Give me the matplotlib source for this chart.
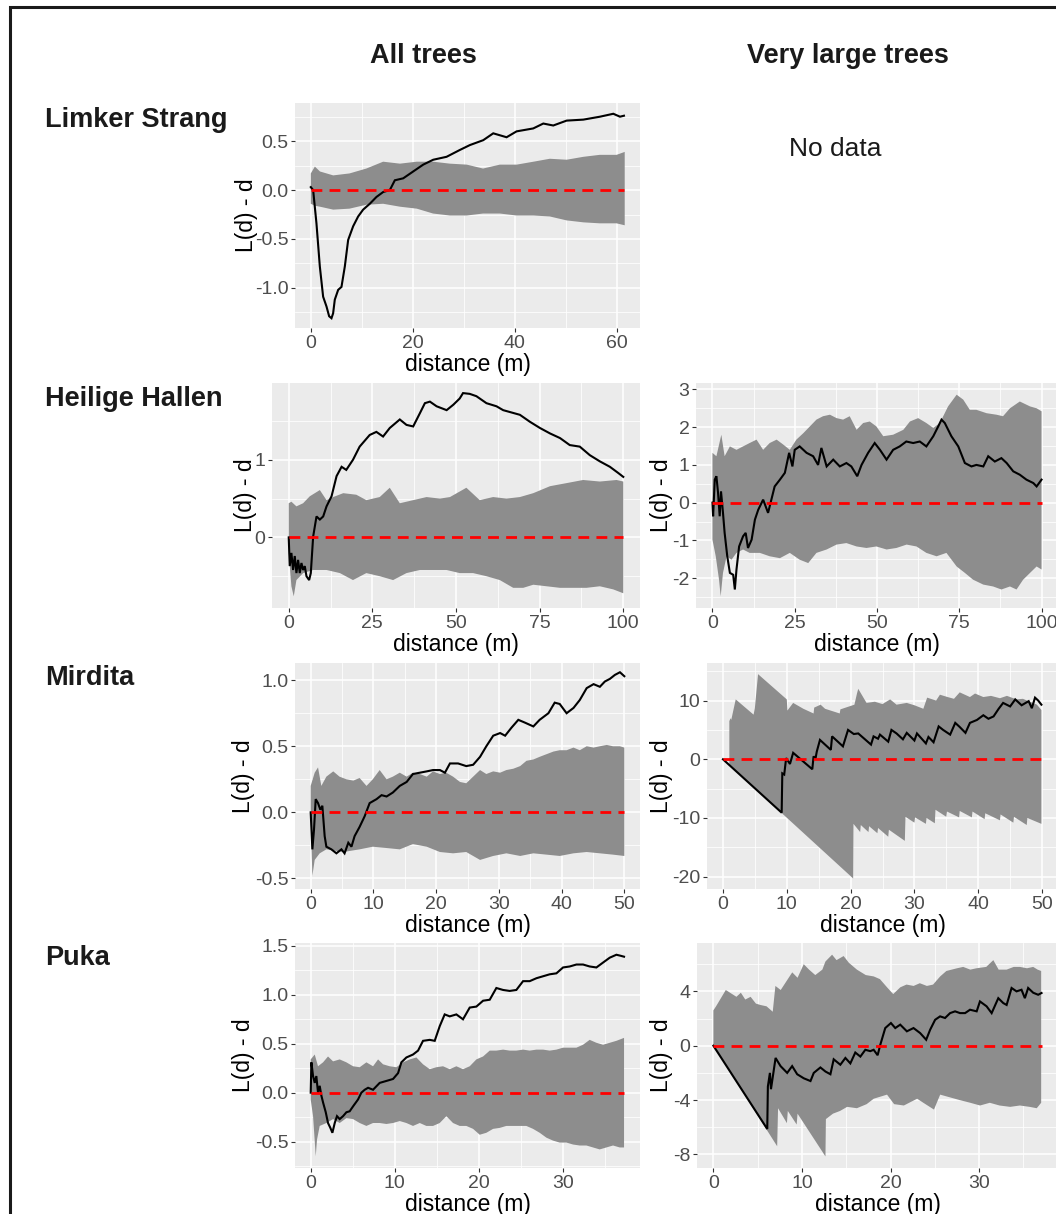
import numpy as np
import matplotlib
matplotlib.use("Agg")
import matplotlib.pyplot as plt
from matplotlib.patches import Rectangle

plt.rcParams['font.family'] = ['Liberation Sans', 'DejaVu Sans']
plt.rcParams['axes.unicode_minus'] = False

# ---------------- text ----------------
col_titles = ["All trees", "Very large trees"]
row_titles = ["Limker Strang", "Heilige Hallen", "Mirdita", "Puka"]
no_data_text = "No data"
x_label = "distance (m)"
y_label = "L(d) - d"

# ---------------- data ----------------
# A: Limker Strang, all trees
A_obs_x = [0, 0.46, 1.11, 1.77, 2.42, 3.08, 3.6, 4.06, 4.38, 4.71, 5.37, 6.02, 6.68, 7.33, 8.31, 9.29, 10.27,
           11.58, 12.89, 14.2, 15.51, 16.49, 18.13, 20.09, 22.06, 24.02, 26.64, 29.25, 31.22, 33.84, 35.8, 38.42,
           40.38, 43.65, 45.62, 47.58, 50.2, 53.47, 56.74, 59.36, 60.67, 61.45]
A_obs_y = [0.03, 0.0, -0.34, -0.78, -1.09, -1.19, -1.29, -1.31, -1.26, -1.12, -1.02, -0.99, -0.78, -0.51, -0.37,
           -0.27, -0.20, -0.14, -0.07, -0.02, 0.0, 0.10, 0.12, 0.19, 0.26, 0.31, 0.34, 0.41, 0.46, 0.51, 0.58, 0.54,
           0.60, 0.63, 0.68, 0.66, 0.71, 0.72, 0.75, 0.78, 0.75, 0.76]
A_hi_x = [0, 0.8, 1.8, 4.4, 7.6, 10.9, 14.2, 17.5, 20.8, 24.0, 27.3, 30.6, 33.8, 37.1, 40.4, 43.7, 46.9, 50.2,
          53.5, 56.7, 60.0, 61.6]
A_hi_y = [0.17, 0.24, 0.19, 0.15, 0.17, 0.22, 0.29, 0.27, 0.29, 0.29, 0.27, 0.26, 0.22, 0.26, 0.26, 0.29, 0.32,
          0.31, 0.34, 0.36, 0.36, 0.39]
A_lo_x = A_hi_x
A_lo_y = [-0.14, -0.16, -0.17, -0.20, -0.19, -0.15, -0.14, -0.17, -0.19, -0.24, -0.26, -0.26, -0.24, -0.24,
          -0.26, -0.26, -0.27, -0.31, -0.33, -0.34, -0.34, -0.36]

# B: Heilige Hallen, all trees
B_obs_x = [0, 0.3, 0.8, 1.3, 1.8, 2.3, 2.8, 3.3, 3.8, 4.3, 4.8, 5.3, 6.1, 6.6, 7.3, 8.3, 9.3, 10.3, 11.3, 12.8,
           14.3, 15.8, 17.2, 19.2, 21.2, 24.2, 26.2, 28.2, 30.2, 33.2, 35.2, 37.2, 39.2, 40.7, 42.2, 44.2, 47.2,
           49.2, 51.1, 52.1, 54.1, 56.1, 59.1, 62.1, 64.1, 66.6, 69.1, 72.1, 75.1, 78.1, 81.1, 84.0, 87.0, 90.0,
           93.0, 96.0, 98.5, 100]
B_obs_y = [0, -0.37, -0.2, -0.42, -0.24, -0.46, -0.29, -0.46, -0.33, -0.42, -0.37, -0.50, -0.55, -0.46, 0.01,
           0.27, 0.23, 0.27, 0.40, 0.53, 0.79, 0.91, 0.87, 1.0, 1.17, 1.32, 1.36, 1.30, 1.41, 1.52, 1.45, 1.43,
           1.60, 1.73, 1.75, 1.69, 1.64, 1.71, 1.79, 1.86, 1.85, 1.82, 1.73, 1.69, 1.64, 1.61, 1.58, 1.49, 1.41,
           1.34, 1.28, 1.19, 1.17, 1.06, 0.98, 0.91, 0.83, 0.78]
B_hi_x = [0, 0.8, 2.3, 4.3, 6.3, 9.3, 11.3, 13.3, 16.3, 20.2, 23.2, 27.2, 30.2, 33.2, 37.2, 41.2, 45.2, 48.2,
          53.1, 57.1, 61.1, 65.1, 69.1, 73.1, 78.1, 83.1, 88.0, 93.0, 98.0, 100]
B_hi_y = [0.44, 0.46, 0.40, 0.44, 0.53, 0.61, 0.48, 0.52, 0.57, 0.55, 0.48, 0.52, 0.64, 0.44, 0.48, 0.52, 0.50,
          0.52, 0.64, 0.48, 0.52, 0.50, 0.52, 0.57, 0.66, 0.70, 0.74, 0.72, 0.74, 0.72]
B_lo_x = [0, 0.8, 1.5, 2.3, 4.3, 7.3, 11.3, 15.3, 19.2, 23.2, 27.2, 31.2, 35.2, 39.2, 43.2, 47.2, 51.1, 55.1,
          59.1, 63.1, 67.1, 70.1, 73.1, 77.1, 81.1, 85.0, 89.0, 93.0, 97.0, 100]
B_lo_y = [-0.20, -0.63, -0.76, -0.55, -0.46, -0.42, -0.42, -0.46, -0.55, -0.46, -0.50, -0.55, -0.46, -0.42,
          -0.42, -0.42, -0.46, -0.46, -0.50, -0.55, -0.65, -0.65, -0.61, -0.63, -0.65, -0.65, -0.65, -0.63,
          -0.67, -0.72]

# C: Heilige Hallen, very large trees
C_obs_x = [0, 0.2, 0.7, 1.2, 1.7, 2.2, 2.6, 3.2, 3.7, 4.5, 5.3, 6.3, 6.8, 7.3, 8.1, 9.3, 10.1, 10.8, 11.9, 12.9,
           13.9, 15.4, 16.9, 17.9, 18.9, 20.5, 22.0, 23.3, 24.3, 25.0, 26.5, 28.6, 30.6, 32.1, 33.1, 34.7, 36.7,
           38.7, 40.7, 42.2, 44.0, 45.3, 47.3, 49.3, 50.9, 52.9, 54.9, 56.9, 58.9, 61.0, 63.0, 65.0, 67.1, 68.6,
           69.6, 70.6, 72.6, 74.7, 76.7, 78.7, 80.2, 82.3, 83.8, 85.8, 87.8, 89.4, 91.4, 93.4, 95.4, 97.5, 98.5, 100]
C_obs_y = [0, -0.36, 0.61, 0.70, 0.26, -0.36, 0.30, -0.27, -0.80, -1.42, -1.86, -1.91, -2.30, -1.77, -1.16,
           -0.89, -0.80, -1.20, -0.98, -0.45, -0.19, 0.08, -0.27, 0.08, 0.43, 0.61, 0.79, 1.32, 0.96, 1.40, 1.49,
           1.32, 1.23, 1.0, 1.45, 0.96, 1.14, 0.96, 1.05, 0.96, 0.70, 1.0, 1.32, 1.58, 1.40, 1.14, 1.40, 1.49,
           1.62, 1.58, 1.62, 1.49, 1.76, 2.02, 2.20, 2.11, 1.76, 1.49, 1.05, 0.96, 1.0, 0.96, 1.23, 1.09, 1.18,
           1.05, 0.83, 0.74, 0.61, 0.52, 0.43, 0.61]
C_hi_x = [0, 1.2, 2.7, 3.7, 5.3, 7.3, 9.3, 11.3, 13.4, 15.4, 17.4, 19.5, 21.5, 23.5, 25.5, 27.6, 29.6, 31.6,
          33.6, 35.7, 37.7, 39.7, 41.7, 43.8, 45.8, 47.8, 49.8, 51.9, 54.9, 58.0, 60.0, 62.5, 65.0, 67.1, 69.1,
          71.6, 74.2, 76.2, 78.2, 80.2, 83.3, 86.3, 88.3, 90.4, 93.4, 96.5, 98.5, 100]
C_hi_y = [1.32, 1.23, 1.80, 1.23, 1.49, 1.40, 1.49, 1.58, 1.67, 1.40, 1.58, 1.67, 1.54, 1.40, 1.67, 1.84, 2.02,
          2.20, 2.29, 2.33, 2.24, 2.20, 2.29, 1.93, 2.11, 2.15, 2.02, 1.76, 1.80, 1.93, 2.15, 2.24, 2.11, 1.98,
          2.11, 2.55, 2.86, 2.73, 2.46, 2.46, 2.37, 2.33, 2.29, 2.50, 2.68, 2.55, 2.50, 2.42]
C_lo_x = [0, 1.0, 2.0, 2.5, 3.2, 4.3, 5.8, 7.3, 9.3, 11.3, 14.4, 17.4, 20.5, 23.5, 26.5, 29.1, 31.6, 34.7, 37.7,
          40.7, 43.8, 46.8, 49.8, 52.9, 55.9, 59.0, 62.0, 65.0, 68.1, 71.1, 74.2, 76.7, 79.2, 82.3, 85.3, 87.8,
          90.4, 92.4, 94.4, 96.5, 98.5, 100]
C_lo_y = [-0.98, -1.42, -2.04, -2.48, -1.86, -1.42, -1.51, -1.33, -1.24, -1.33, -1.33, -1.42, -1.47, -1.33,
          -1.51, -1.60, -1.33, -1.24, -1.11, -1.07, -1.16, -1.20, -1.16, -1.24, -1.20, -1.11, -1.16, -1.33,
          -1.42, -1.33, -1.69, -1.86, -2.04, -2.17, -2.22, -2.30, -2.22, -2.30, -2.04, -1.86, -1.69, -1.77]

# D: Mirdita, all trees
D_obs_x = [0, 0.27, 0.53, 0.80, 1.17, 1.54, 1.86, 2.23, 2.5, 3.3, 4.1, 4.9, 5.4, 6.0, 6.5, 7.0, 7.8, 8.6, 9.4,
           10.5, 11.3, 12.1, 13.1, 14.2, 15.3, 16.3, 17.4, 18.5, 19.5, 20.6, 21.4, 22.2, 23.5, 24.8, 25.9, 27.0,
           28.0, 29.1, 30.2, 31.0, 32.0, 33.1, 34.1, 35.5, 36.5, 37.9, 38.9, 39.7, 40.8, 41.9, 42.9, 44.0, 45.1,
           46.1, 46.9, 47.7, 48.5, 49.3, 50.0]
D_obs_y = [0, -0.28, -0.13, 0.10, 0.07, 0.02, 0.05, -0.18, -0.26, -0.28, -0.31, -0.28, -0.31, -0.23, -0.26,
           -0.18, -0.11, -0.03, 0.07, 0.10, 0.13, 0.12, 0.15, 0.20, 0.23, 0.29, 0.30, 0.31, 0.32, 0.32, 0.30,
           0.37, 0.37, 0.35, 0.36, 0.42, 0.50, 0.58, 0.60, 0.58, 0.64, 0.70, 0.68, 0.65, 0.70, 0.75, 0.83, 0.82,
           0.75, 0.79, 0.85, 0.94, 0.97, 0.95, 0.99, 1.01, 1.04, 1.06, 1.03]
D_hi_x = [0, 0.64, 1.17, 1.70, 2.5, 3.6, 4.6, 5.7, 6.8, 7.8, 8.9, 9.9, 11.0, 12.1, 13.1, 14.2, 15.3, 16.3, 17.4,
          18.5, 19.5, 20.6, 21.6, 22.7, 23.8, 24.8, 25.9, 27.0, 28.0, 29.1, 30.2, 31.2, 32.3, 33.4, 34.4, 35.5,
          36.5, 37.6, 38.7, 39.7, 40.8, 41.9, 42.9, 44.0, 45.1, 46.1, 47.2, 48.2, 49.3, 50.0]
D_hi_y = [0.20, 0.30, 0.34, 0.20, 0.27, 0.31, 0.27, 0.25, 0.24, 0.26, 0.20, 0.25, 0.32, 0.25, 0.27, 0.30, 0.27,
          0.30, 0.29, 0.27, 0.31, 0.29, 0.30, 0.27, 0.23, 0.22, 0.27, 0.32, 0.29, 0.31, 0.30, 0.32, 0.33, 0.35,
          0.39, 0.40, 0.42, 0.44, 0.46, 0.47, 0.47, 0.49, 0.47, 0.50, 0.49, 0.50, 0.51, 0.50, 0.50, 0.49]
D_lo_x = [0, 0.27, 0.64, 1.44, 2.5, 5.2, 7.8, 9.9, 12.1, 14.2, 16.3, 18.5, 20.6, 22.7, 24.8, 27.0, 29.1, 31.2,
          33.4, 35.5, 37.6, 39.7, 41.9, 44.0, 46.1, 48.2, 50.0]
D_lo_y = [-0.03, -0.48, -0.36, -0.31, -0.28, -0.30, -0.28, -0.26, -0.27, -0.28, -0.24, -0.26, -0.30, -0.31,
          -0.30, -0.36, -0.33, -0.31, -0.33, -0.31, -0.32, -0.33, -0.31, -0.30, -0.31, -0.32, -0.33]

# E: Mirdita, very large trees
E_obs_x = [0, 9.2, 9.3, 9.6, 9.9, 10.5, 11.0, 14.0, 14.2, 14.5, 14.7, 15.2, 16.9, 17.1, 18.8, 19.6, 20.5, 21.2,
           23.2, 23.6, 24.3, 24.6, 25.9, 26.4, 27.2, 28.2, 28.8, 30.0, 30.4, 31.8, 32.2, 33.0, 33.8, 34.5, 35.6,
           36.4, 37.1, 38.0, 38.7, 39.8, 40.8, 41.6, 42.4, 43.2, 43.9, 45.0, 45.8, 46.8, 47.9, 48.4, 48.9, 49.4,
           49.9]
E_obs_y = [0, -9.1, -2.4, -2.6, 0.2, -0.8, 1.1, -1.7, 0.5, 0.1, 1.3, 3.3, 1.6, 3.9, 2.2, 5.0, 4.3, 4.4, 2.5, 3.9,
           3.5, 4.2, 3.0, 5.0, 4.4, 3.4, 4.5, 3.2, 4.4, 2.7, 3.8, 2.9, 5.6, 5.0, 4.2, 6.2, 5.5, 4.5, 6.2, 6.7, 7.5,
           6.9, 7.3, 8.6, 9.6, 9.0, 10.2, 9.2, 9.9, 8.7, 10.5, 10.0, 9.3]
E_hi_x = [1.0, 1.2, 1.3, 2.0, 4.8, 5.0, 5.5, 10.0, 10.1, 11.0, 12.6, 14.2, 14.3, 15.3, 16.0, 18.3, 18.4, 20.6,
          21.0, 21.2, 22.5, 23.8, 25.0, 26.2, 27.2, 28.8, 30.0, 31.4, 32.0, 33.4, 34.0, 35.2, 36.2, 37.1, 38.7,
          39.5, 40.8, 42.0, 43.4, 44.5, 46.0, 47.0, 48.1, 49.2, 49.9]
E_hi_y = [6.5, 7.0, 6.7, 10.2, 7.6, 8.7, 14.5, 10.2, 8.3, 9.6, 8.6, 7.8, 8.8, 9.3, 8.6, 7.8, 8.5, 9.3, 11.2,
          12.0, 9.6, 9.8, 9.4, 10.2, 9.3, 9.6, 9.2, 8.6, 10.5, 10.0, 11.0, 10.6, 10.3, 11.4, 10.6, 11.2, 10.6,
          10.8, 10.4, 10.8, 10.2, 10.3, 9.8, 9.3, 8.4]
E_lo_x = [1.0, 20.4, 20.45, 21.5, 21.6, 22.8, 22.9, 24.2, 24.3, 25.9, 26.0, 28.5, 28.6, 30.0, 30.1, 31.8, 31.9,
          33.2, 33.3, 35.0, 35.1, 37.0, 37.1, 39.0, 39.1, 41.0, 41.1, 43.4, 43.5, 45.5, 45.6, 47.6, 47.7, 49.9]
E_lo_y = [-1.0, -20.3, -11.0, -12.4, -11.2, -12.4, -11.4, -12.6, -11.7, -13.2, -12.0, -13.9, -9.8, -10.8, -9.9,
          -11.0, -10.0, -10.9, -8.6, -9.8, -8.9, -9.9, -8.8, -9.9, -8.9, -10.2, -9.2, -10.4, -9.4, -10.8, -9.8,
          -11.2, -10.0, -11.0]

# F: Puka, all trees
F_obs_x = [0, 0.08, 0.28, 0.48, 0.67, 0.87, 1.07, 1.27, 1.47, 1.79, 2.06, 2.34, 2.58, 2.86, 3.13, 3.45, 3.85,
           4.25, 4.64, 5.04, 5.63, 6.03, 6.43, 6.83, 7.42, 8.21, 9.01, 9.80, 10.40, 10.79, 11.39, 12.18, 12.78,
           13.37, 14.17, 14.76, 15.36, 15.95, 16.55, 17.34, 18.13, 18.93, 19.72, 20.52, 21.31, 22.10, 22.90,
           23.69, 24.48, 25.28, 26.07, 26.87, 27.66, 28.45, 29.25, 30.04, 30.83, 31.63, 32.42, 33.21, 34.01,
           34.80, 35.60, 36.39, 36.87, 37.30]
F_obs_y = [0, 0.31, 0.17, 0.10, 0.17, 0.0, 0.07, -0.03, -0.10, -0.20, -0.31, -0.36, -0.41, -0.31, -0.24, -0.27,
           -0.24, -0.20, -0.19, -0.14, -0.07, 0.0, 0.03, 0.05, 0.03, 0.10, 0.12, 0.14, 0.20, 0.31, 0.36, 0.39,
           0.43, 0.53, 0.54, 0.53, 0.68, 0.80, 0.78, 0.80, 0.75, 0.87, 0.88, 0.94, 0.95, 1.07, 1.05, 1.04, 1.05,
           1.14, 1.14, 1.17, 1.19, 1.21, 1.22, 1.28, 1.29, 1.31, 1.31, 1.29, 1.28, 1.33, 1.38, 1.41, 1.40, 1.39]
F_hi_x = [0, 0.48, 0.87, 1.47, 2.06, 2.66, 3.45, 4.25, 5.04, 5.83, 6.63, 7.42, 8.02, 8.61, 9.40, 10.20, 10.99,
          11.79, 12.58, 13.37, 14.17, 14.96, 15.75, 16.55, 17.34, 18.13, 18.93, 19.72, 20.52, 21.31, 22.10,
          22.90, 23.69, 24.48, 25.28, 26.07, 26.87, 27.66, 28.45, 29.25, 30.04, 30.83, 31.63, 32.42, 33.21,
          34.01, 34.80, 35.60, 36.39, 37.30]
F_hi_y = [0.34, 0.39, 0.27, 0.31, 0.37, 0.32, 0.34, 0.31, 0.27, 0.26, 0.31, 0.27, 0.34, 0.29, 0.27, 0.26, 0.31,
          0.34, 0.36, 0.29, 0.24, 0.26, 0.27, 0.24, 0.27, 0.24, 0.27, 0.34, 0.37, 0.43, 0.43, 0.44, 0.43, 0.43,
          0.44, 0.43, 0.44, 0.44, 0.43, 0.44, 0.46, 0.46, 0.46, 0.49, 0.54, 0.51, 0.49, 0.51, 0.53, 0.56]
F_lo_x = [0, 0.28, 0.60, 0.75, 1.07, 1.87, 2.66, 3.45, 4.25, 5.04, 5.83, 6.63, 7.42, 8.21, 9.01, 9.80, 10.60,
          11.39, 12.18, 12.98, 13.77, 14.56, 15.36, 16.15, 16.94, 17.74, 18.53, 19.33, 20.12, 20.91, 21.71,
          22.50, 23.29, 24.09, 24.88, 25.67, 26.47, 27.26, 28.06, 28.85, 29.64, 30.44, 31.23, 32.02, 32.82,
          33.61, 34.40, 35.20, 35.99, 36.79, 37.30]
F_lo_y = [-0.07, -0.24, -0.65, -0.48, -0.34, -0.31, -0.27, -0.31, -0.26, -0.27, -0.31, -0.34, -0.31, -0.31,
          -0.32, -0.31, -0.29, -0.31, -0.34, -0.31, -0.34, -0.34, -0.31, -0.24, -0.31, -0.34, -0.34, -0.37,
          -0.43, -0.41, -0.37, -0.36, -0.34, -0.34, -0.34, -0.34, -0.37, -0.41, -0.46, -0.49, -0.51, -0.51,
          -0.53, -0.54, -0.54, -0.56, -0.58, -0.56, -0.54, -0.56, -0.56]

# G: Puka, very large trees
G_obs_x = [0, 6.08, 6.15, 6.38, 6.5, 7.02, 7.58, 8.33, 8.89, 9.46, 10.21, 10.96, 11.33, 12.08, 12.65, 13.21,
           13.58, 14.33, 14.9, 15.46, 16.02, 16.59, 17.15, 17.71, 18.09, 18.54, 18.84, 19.4, 20.04, 20.53, 21.09,
           21.84, 22.59, 23.34, 24.02, 24.47, 25.03, 25.59, 26.15, 26.72, 27.28, 27.84, 28.41, 28.97, 29.72,
           30.09, 30.84, 31.41, 32.16, 32.72, 33.1, 33.66, 34.22, 34.78, 35.16, 35.53, 36.1, 36.66, 37.04]
G_obs_y = [0, -6.13, -3.0, -2.0, -3.2, -0.9, -1.5, -2.0, -1.5, -2.1, -2.4, -2.6, -2.0, -1.6, -1.9, -2.1, -1.0,
           -1.4, -0.9, -1.3, -0.5, -0.8, -0.3, -0.4, -0.3, -0.7, 0.07, 1.3, 1.67, 1.3, 1.55, 1.06, 1.3, 0.93,
           0.44, 1.18, 1.91, 2.16, 2.04, 2.4, 2.53, 2.4, 2.4, 2.65, 2.53, 3.26, 2.9, 2.4, 3.5, 3.14, 3.0, 4.25,
           4.0, 4.12, 3.5, 4.25, 3.9, 3.75, 3.88]
G_hi_x = [0, 0.3, 1.4, 2.6, 3.1, 3.6, 4.2, 4.8, 5.3, 6.0, 6.7, 7.0, 7.6, 8.0, 8.9, 9.5, 10.2, 10.8, 11.5, 12.3,
          12.65, 13.4, 13.9, 14.7, 15.3, 16.2, 17.2, 18.1, 18.8, 19.6, 20.3, 21.1, 21.8, 22.6, 23.3, 24.1, 24.8,
          25.6, 26.3, 26.9, 27.5, 28.2, 29.0, 29.7, 30.8, 31.6, 32.2, 33.1, 33.9, 34.6, 35.4, 36.1, 36.6, 37.0]
G_hi_y = [2.6, 2.9, 4.1, 3.6, 3.9, 3.4, 3.6, 3.1, 3.0, 2.9, 2.5, 4.4, 4.1, 4.5, 5.4, 5.0, 6.0, 5.6, 5.2, 5.6,
          6.2, 6.7, 6.3, 6.6, 6.1, 5.6, 5.2, 5.1, 4.9, 4.3, 3.8, 4.3, 4.5, 4.4, 4.6, 4.4, 4.5, 5.1, 5.5, 5.6,
          5.7, 5.8, 5.6, 5.7, 5.8, 6.3, 5.6, 5.6, 5.8, 5.8, 5.7, 5.8, 5.6, 5.5]
G_lo_x = [0, 7.2, 7.3, 8.3, 8.4, 9.4, 9.5, 12.65, 12.7, 13.5, 14.3, 15.1, 16.2, 17.3, 18.1, 19.6, 20.4, 21.5,
          23.0, 23.7, 24.9, 25.6, 26.7, 27.8, 29.0, 30.1, 31.2, 32.3, 33.5, 34.6, 35.7, 36.5, 37.0]
G_lo_y = [0, -7.4, -4.6, -5.7, -4.8, -5.8, -5.0, -8.15, -5.4, -5.0, -4.8, -4.5, -4.6, -4.3, -3.9, -3.6, -4.3,
          -4.4, -3.9, -4.2, -4.7, -3.6, -3.8, -4.0, -4.2, -4.4, -4.2, -4.4, -4.5, -4.4, -4.5, -4.6, -4.2]

# tick values / labels
A_xticks = [0, 20, 40, 60]
A_yticks = [-1.0, -0.5, 0.0, 0.5]
A_ylabels = ["-1.0", "-0.5", "0.0", "0.5"]
B_xticks = [0, 25, 50, 75, 100]
B_yticks = [0, 1]
B_ylabels = ["0", "1"]
C_xticks = [0, 25, 50, 75, 100]
C_yticks = [-2, -1, 0, 1, 2, 3]
C_ylabels = ["-2", "-1", "0", "1", "2", "3"]
D_xticks = [0, 10, 20, 30, 40, 50]
D_yticks = [-0.5, 0.0, 0.5, 1.0]
D_ylabels = ["-0.5", "0.0", "0.5", "1.0"]
E_xticks = [0, 10, 20, 30, 40, 50]
E_yticks = [-20, -10, 0, 10]
E_ylabels = ["-20", "-10", "0", "10"]
F_xticks = [0, 10, 20, 30]
F_yticks = [-0.5, 0.0, 0.5, 1.0, 1.5]
F_ylabels = ["-0.5", "0.0", "0.5", "1.0", "1.5"]
G_xticks = [0, 10, 20, 30]
G_yticks = [-8, -4, 0, 4]
G_ylabels = ["-8", "-4", "0", "4"]

# ---------------- figure ----------------
W, H = 1056, 1214
fig = plt.figure(figsize=(W / 100, H / 100), dpi=100)
fig.patch.set_facecolor('white')

PANEL_BG = '#EBEBEB'
ENV_COL = '#8D8D8D'
TICK_TXT = '#4D4D4D'


def minor_between(ticks, lo, hi):
    step = ticks[1] - ticks[0]
    cand = [ticks[0] - step / 2] + [t + step / 2 for t in ticks]
    return [c for c in cand if lo < c < hi]


def make_panel(box, xlim, ylim, obs_x, obs_y, hi_x, hi_y, lo_x, lo_y,
               xticks, yticks, ylabels, ylab_x):
    l, t, r, b = box
    ax = fig.add_axes([l / W, 1 - b / H, (r - l) / W, (b - t) / H])
    ax.set_facecolor(PANEL_BG)
    for s in ax.spines.values():
        s.set_visible(False)
    ax.set_xlim(*xlim)
    ax.set_ylim(*ylim)
    ax.set_xticks(xticks)
    ax.set_xticklabels([str(v) for v in xticks])
    ax.set_yticks(yticks)
    ax.set_yticklabels(ylabels)
    ax.set_xticks(minor_between(xticks, *xlim), minor=True)
    ax.set_yticks(minor_between(yticks, *ylim), minor=True)
    ax.set_axisbelow(True)
    ax.grid(which='major', color='white', lw=1.1)
    ax.grid(which='minor', color='white', lw=0.55)
    ax.tick_params(which='major', direction='out', length=3.2, width=0.8, color='#333333',
                   labelsize=14, labelcolor=TICK_TXT, pad=1.5)
    ax.tick_params(which='minor', length=0)
    # envelope polygon
    px = np.concatenate([np.asarray(hi_x, float), np.asarray(lo_x, float)[::-1]])
    py = np.concatenate([np.asarray(hi_y, float), np.asarray(lo_y, float)[::-1]])
    ax.fill(px, py, color=ENV_COL, lw=0, zorder=2)
    ax.plot(obs_x, obs_y, color='black', lw=1.5, zorder=3, solid_joinstyle='miter')
    ax.plot([0, obs_x[-1]], [0, 0], color='#FF0000', lw=2.0, dashes=(3.9, 2.6), zorder=4)
    ax.set_xlabel(x_label, fontsize=16.5, color='black')
    ax.set_ylabel(y_label, fontsize=16.5, color='black')
    ax.xaxis.set_label_coords(0.5, -25 / (b - t))
    ax.yaxis.set_label_coords(ylab_x, 0.5)
    return ax


make_panel((295, 103, 640, 328), (-3.1, 64.6), (-1.41, 0.89), A_obs_x, A_obs_y, A_hi_x, A_hi_y, A_lo_x, A_lo_y,
           A_xticks, A_yticks, A_ylabels, -0.107)
make_panel((272, 383, 640, 608), (-5, 105), (-0.91, 1.99), B_obs_x, B_obs_y, B_hi_x, B_hi_y, B_lo_x, B_lo_y,
           B_xticks, B_yticks, B_ylabels, -0.041)
make_panel((696, 383, 1058, 608), (-5, 105), (-2.79, 3.17), C_obs_x, C_obs_y, C_hi_x, C_hi_y, C_lo_x, C_lo_y,
           C_xticks, C_yticks, C_ylabels, -0.064)
make_panel((295, 663, 640, 889), (-2.5, 52.5), (-0.58, 1.13), D_obs_x, D_obs_y, D_hi_x, D_hi_y, D_lo_x, D_lo_y,
           D_xticks, D_yticks, D_ylabels, -0.116)
make_panel((707, 663, 1058, 889), (-2.5, 52.5), (-22.1, 16.4), E_obs_x, E_obs_y, E_hi_x, E_hi_y, E_lo_x, E_lo_y,
           E_xticks, E_yticks, E_ylabels, -0.097)
make_panel((295, 943, 640, 1168), (-1.87, 39.2), (-0.77, 1.53), F_obs_x, F_obs_y, F_hi_x, F_hi_y, F_lo_x, F_lo_y,
           F_xticks, F_yticks, F_ylabels, -0.116)
make_panel((697, 943, 1058, 1168), (-1.85, 38.9), (-9.0, 7.56), G_obs_x, G_obs_y, G_hi_x, G_hi_y, G_lo_x, G_lo_y,
           G_xticks, G_yticks, G_ylabels, -0.066)

# headings
TXT = '#1A1A1A'
fig.text(423 / W, 1 - 63 / H, col_titles[0], ha='center', va='baseline', fontsize=19.5, fontweight='bold', color=TXT)
fig.text(848 / W, 1 - 63 / H, col_titles[1], ha='center', va='baseline', fontsize=19.5, fontweight='bold', color=TXT)
for name, base in zip(row_titles, [127, 406, 685, 965]):
    fig.text(45 / W, 1 - base / H, name, ha='left', va='baseline', fontsize=19.5, fontweight='bold', color=TXT)
fig.text(835 / W, 1 - 156 / H, no_data_text, ha='center', va='baseline', fontsize=19, color=TXT)

# outer frame
fig.patches.append(Rectangle((9.5 / W, -0.05), 1.2, (1 - 6.5 / H) + 0.05, transform=fig.transFigure,
                             fill=False, lw=2.2, edgecolor='#1A1A1A', zorder=10))

fig.savefig('out.png', dpi=100, facecolor='white')
